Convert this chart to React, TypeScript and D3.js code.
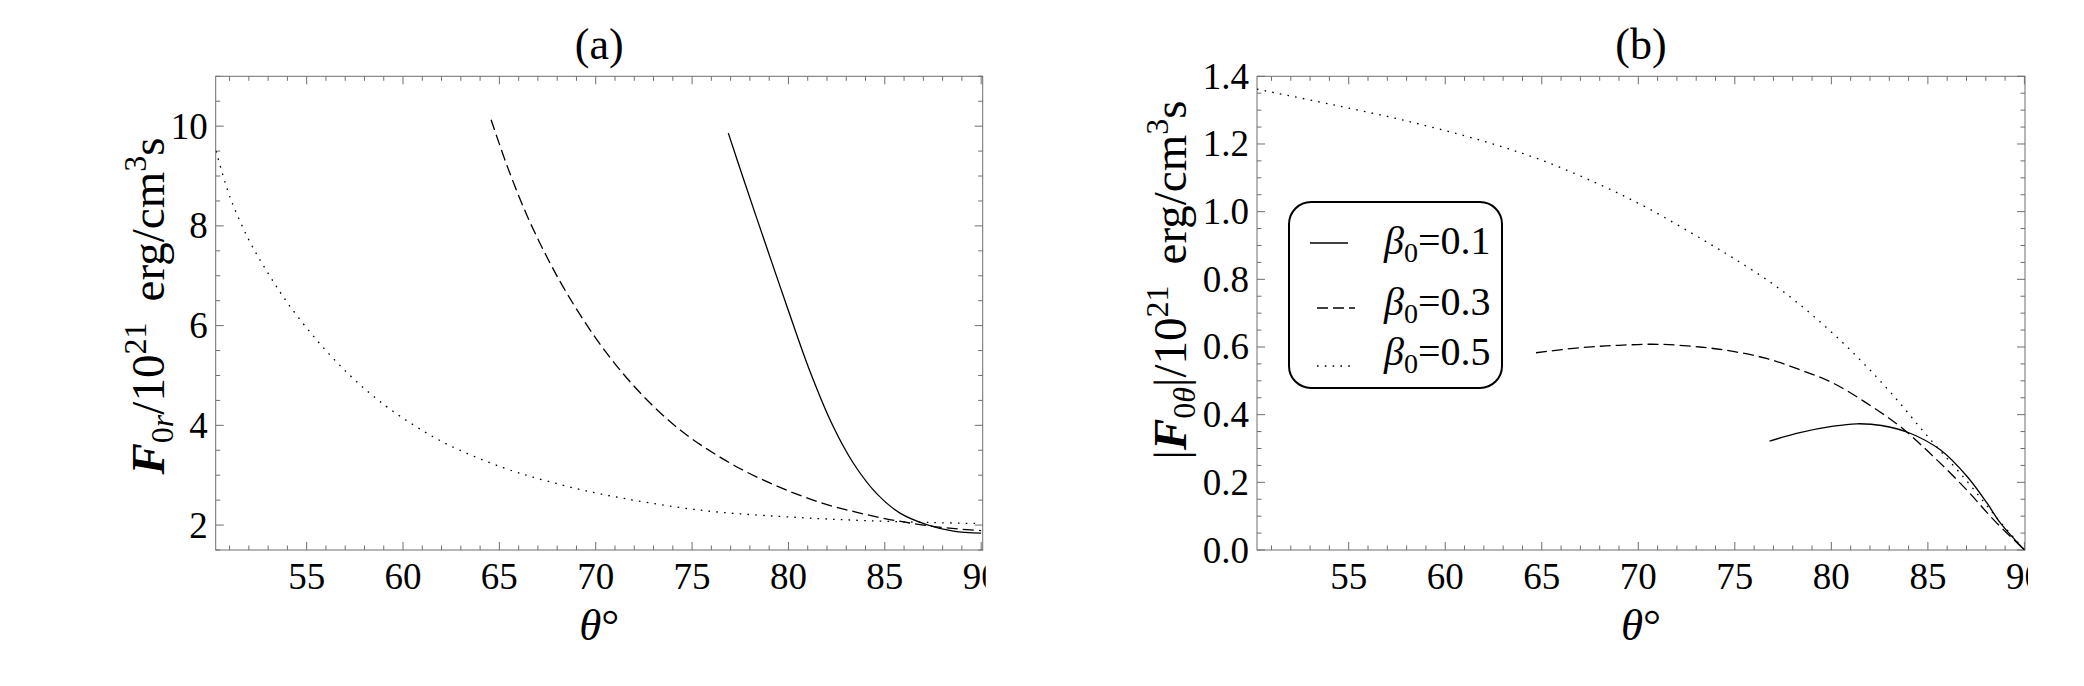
import React from 'react';
import * as d3 from 'd3';

// θ (degrees) vs radial flux F_0r / 10^21 erg/cm^3 s
const fluxR_beta01: [number, number][] = [
  [76.88, 9.86], [77.66, 8.95], [78.87, 7.57], [79.91, 6.40], [81.12, 5.08],
  [82.33, 3.97], [83.37, 3.24], [84.58, 2.63], [85.79, 2.24], [87.17, 2.01],
  [88.56, 1.88], [90.0, 1.84],
];
const fluxR_beta03: [number, number][] = [
  [64.57, 10.13], [65.5, 9.1], [66.5, 8.15], [67.5, 7.35], [68.5, 6.65],
  [70.0, 5.75], [71.5, 5.0], [73.0, 4.38], [74.5, 3.87], [76.0, 3.47],
  [77.5, 3.13], [79.0, 2.85], [80.5, 2.61], [82.0, 2.41], [83.5, 2.26],
  [85.0, 2.13], [86.5, 2.03], [88.0, 1.95], [90.0, 1.89],
];
const fluxR_beta05: [number, number][] = [
  [50.3, 9.5], [51.0, 8.6], [52.0, 7.72], [53.0, 7.05], [54.0, 6.46],
  [55.5, 5.72], [57.25, 5.0], [59.0, 4.42], [60.7, 3.97], [62.4, 3.6],
  [65.2, 3.15], [67.5, 2.88], [70.3, 2.62], [75.4, 2.3], [80.6, 2.15],
  [84.0, 2.09], [87.5, 2.05], [90.0, 2.03],
];

// θ (degrees) vs polar flux |F_0θ| / 10^21 erg/cm^3 s
const fluxT_beta01: [number, number][] = [
  [76.8, 0.322], [78.37, 0.347], [80.1, 0.366], [81.3, 0.373], [82.6, 0.368],
  [84.08, 0.345], [85.64, 0.296], [87.02, 0.218], [88.06, 0.139], [88.75, 0.08], [90.0, 0.0],
];
const fluxT_beta03: [number, number][] = [
  [64.7, 0.583], [67.0, 0.598], [69.0, 0.605], [71.0, 0.608], [73.18, 0.60],
  [74.91, 0.587], [76.64, 0.566], [78.37, 0.533], [80.1, 0.493], [81.83, 0.434],
  [83.56, 0.365], [85.29, 0.276], [87.02, 0.177], [88.41, 0.089], [90.0, 0.0],
];
const fluxT_beta05: [number, number][] = [
  [50.25, 1.362], [54.0, 1.318], [58.0, 1.268], [62.0, 1.208], [65.0, 1.152],
  [68.0, 1.08], [70.5, 1.01], [73.4, 0.915], [75.0, 0.86], [77.0, 0.785],
  [79.0, 0.695], [81.0, 0.59], [83.0, 0.47], [85.0, 0.335], [87.0, 0.205],
  [88.5, 0.1], [90.0, 0.0],
];

const thetaTicks = [55, 60, 65, 70, 75, 80, 85, 90];
const fluxRTicks = [2, 4, 6, 8, 10];
const fluxTTicks = [0, 0.2, 0.4, 0.6, 0.8, 1.0, 1.2, 1.4];
const legendLabels = ['0.1', '0.3', '0.5'];

const FONT = '"Liberation Serif", "Times New Roman", serif';
const FRAME = '#6e6e6e';
const DASH = '11,5';
const DOT = '1.6,6.2';

type Series = { data: [number, number][]; dash: string | null };

type PanelProps = {
  id: string;
  left: number; right: number; top: number; bottom: number;
  xDomain: [number, number];
  yDomain: [number, number];
  yTicks: number[];
  yMinorStep: number;
  yFormat: (v: number) => string;
  series: Series[];
  title: string;
};

function Panel(p: PanelProps) {
  const x = d3.scaleLinear().domain(p.xDomain).range([p.left, p.right]);
  const y = d3.scaleLinear().domain(p.yDomain).range([p.bottom, p.top]);
  const line = d3.line<[number, number]>()
    .x(d => x(d[0]))
    .y(d => y(d[1]))
    .curve(d3.curveCatmullRom.alpha(0.5));

  const xMinor = d3.range(Math.ceil(p.xDomain[0]), Math.floor(p.xDomain[1]) + 1)
    .filter(v => v % 5 !== 0);
  const nMinor = Math.round((p.yDomain[1] - p.yDomain[0]) / p.yMinorStep);
  const yMinor = d3.range(0, nMinor + 1)
    .map(i => +(p.yDomain[0] + i * p.yMinorStep).toFixed(4))
    .filter(v => v >= p.yDomain[0] && v <= p.yDomain[1])
    .filter(v => !p.yTicks.some(t => Math.abs(t - v) < 1e-6));

  const major = 8;
  const minor = 4.5;

  return (
    <g>
      <defs>
        <clipPath id={`clip-${p.id}`}>
          <rect x={0} y={0} width={p.right + 3} height={686} />
        </clipPath>
        <clipPath id={`plot-${p.id}`}>
          <rect x={p.left} y={p.top} width={p.right - p.left} height={p.bottom - p.top} />
        </clipPath>
      </defs>
      <g clipPath={`url(#clip-${p.id})`}>
        <text x={(p.left + p.right) / 2} y={59} fontFamily={FONT} fontSize={44} textAnchor="middle">{p.title}</text>
        <rect x={p.left} y={p.top} width={p.right - p.left} height={p.bottom - p.top}
          fill="none" stroke={FRAME} strokeWidth={1} />
        {/* x ticks, bottom and top */}
        {thetaTicks.map(t => (
          <g key={`xt${t}`}>
            <line x1={x(t)} x2={x(t)} y1={p.bottom} y2={p.bottom - major} stroke={FRAME} />
            <line x1={x(t)} x2={x(t)} y1={p.top} y2={p.top + major} stroke={FRAME} />
            <text x={x(t)} y={589} fontFamily={FONT} fontSize={37} textAnchor="middle">{t}</text>
          </g>
        ))}
        {xMinor.map(t => (
          <g key={`xm${t}`}>
            <line x1={x(t)} x2={x(t)} y1={p.bottom} y2={p.bottom - minor} stroke={FRAME} />
            <line x1={x(t)} x2={x(t)} y1={p.top} y2={p.top + minor} stroke={FRAME} />
          </g>
        ))}
        {/* y ticks, left and right */}
        {p.yTicks.map(t => (
          <g key={`yt${t}`}>
            <line x1={p.left} x2={p.left + major} y1={y(t)} y2={y(t)} stroke={FRAME} />
            <line x1={p.right} x2={p.right - major} y1={y(t)} y2={y(t)} stroke={FRAME} />
            <text x={p.left - 8} y={y(t) + 12.5} fontFamily={FONT} fontSize={37} textAnchor="end">{p.yFormat(t)}</text>
          </g>
        ))}
        {yMinor.map(t => (
          <g key={`ym${t}`}>
            <line x1={p.left} x2={p.left + minor} y1={y(t)} y2={y(t)} stroke={FRAME} />
            <line x1={p.right} x2={p.right - minor} y1={y(t)} y2={y(t)} stroke={FRAME} />
          </g>
        ))}
        <g clipPath={`url(#plot-${p.id})`}>
          {p.series.map((s, i) => (
            <path key={i} d={line(s.data) || ''} fill="none" stroke="#000"
              strokeWidth={1.3} strokeDasharray={s.dash || undefined} />
          ))}
        </g>
        <text x={(p.left + p.right) / 2} y={640} fontFamily={FONT} fontSize={45} textAnchor="middle">
          <tspan fontStyle="italic">θ</tspan>°
        </text>
      </g>
    </g>
  );
}

function Legend({ x0, y0 }: { x0: number; y0: number }) {
  const dashes = [null, DASH, DOT];
  const lineY = [41, 106, 164];
  const textY = [52, 113, 163];
  return (
    <g>
      <rect x={x0} y={y0} width={213} height={186} rx={22} ry={22} fill="#fff" stroke="#000" strokeWidth={2} />
      {legendLabels.map((lab, i) => (
        <g key={lab}>
          <line x1={x0 + (i === 0 ? 21 : 28)} x2={x0 + (i === 0 ? 59 : 66)} y1={y0 + lineY[i]} y2={y0 + lineY[i]}
            stroke="#000" strokeWidth={1.3} strokeDasharray={dashes[i] || undefined} />
          <text x={x0 + 95} y={y0 + textY[i]} fontFamily={FONT} fontSize={40}>
            <tspan fontStyle="italic">β</tspan>
            <tspan fontSize={28} dy={8}>0</tspan>
            <tspan dy={-8}>={lab}</tspan>
          </text>
        </g>
      ))}
    </g>
  );
}

export default function App() {
  const yFmtA = (v: number) => String(v);
  const yFmtB = d3.format('.1f');
  return (
    <svg width={2084} height={686} style={{ position: 'absolute', left: 0, top: 0, background: '#fff' }}
      xmlns="http://www.w3.org/2000/svg">
      <rect x={0} y={0} width={2084} height={686} fill="#fff" />
      <Panel id="a" left={215.7} right={982.7} top={76.3} bottom={550}
        xDomain={[50.28, 90.08]} yDomain={[1.5, 11]} yTicks={fluxRTicks} yMinorStep={0.5}
        yFormat={yFmtA} title="(a)"
        series={[
          { data: fluxR_beta01, dash: null },
          { data: fluxR_beta03, dash: DASH },
          { data: fluxR_beta05, dash: DOT },
        ]} />
      <Panel id="b" left={1257} right={2025} top={76.3} bottom={550}
        xDomain={[50.25, 90.03]} yDomain={[0, 1.4]} yTicks={fluxTTicks} yMinorStep={0.05}
        yFormat={yFmtB} title="(b)"
        series={[
          { data: fluxT_beta01, dash: null },
          { data: fluxT_beta03, dash: DASH },
          { data: fluxT_beta05, dash: DOT },
        ]} />
      <Legend x0={1289} y0={202} />
      {/* axis labels */}
      <text transform="translate(164,306) rotate(-90)" fontFamily={FONT} fontSize={47} textAnchor="middle">
        <tspan fontStyle="italic" fontWeight="bold">F</tspan>
        <tspan fontSize={32} dy={9}>0</tspan>
        <tspan fontSize={32} fontStyle="italic">r</tspan>
        <tspan dy={-9}>/10</tspan>
        <tspan fontSize={32} dy={-18}>21</tspan>
        <tspan dy={18}>{'\u00a0\u2009erg/cm'}</tspan>
        <tspan fontSize={32} dy={-18}>3</tspan>
        <tspan dy={18}>s</tspan>
      </text>
      <text transform="translate(1186,280) rotate(-90)" fontFamily={FONT} fontSize={47} textAnchor="middle">
        <tspan>|</tspan>
        <tspan fontStyle="italic" fontWeight="bold">F</tspan>
        <tspan fontSize={32} dy={9}>0</tspan>
        <tspan fontSize={32} fontStyle="italic">θ</tspan>
        <tspan dy={-9}>|/10</tspan>
        <tspan fontSize={32} dy={-18}>21</tspan>
        <tspan dy={18}>{'\u00a0\u2009erg/cm'}</tspan>
        <tspan fontSize={32} dy={-18}>3</tspan>
        <tspan dy={18}>s</tspan>
      </text>
    </svg>
  );
}
